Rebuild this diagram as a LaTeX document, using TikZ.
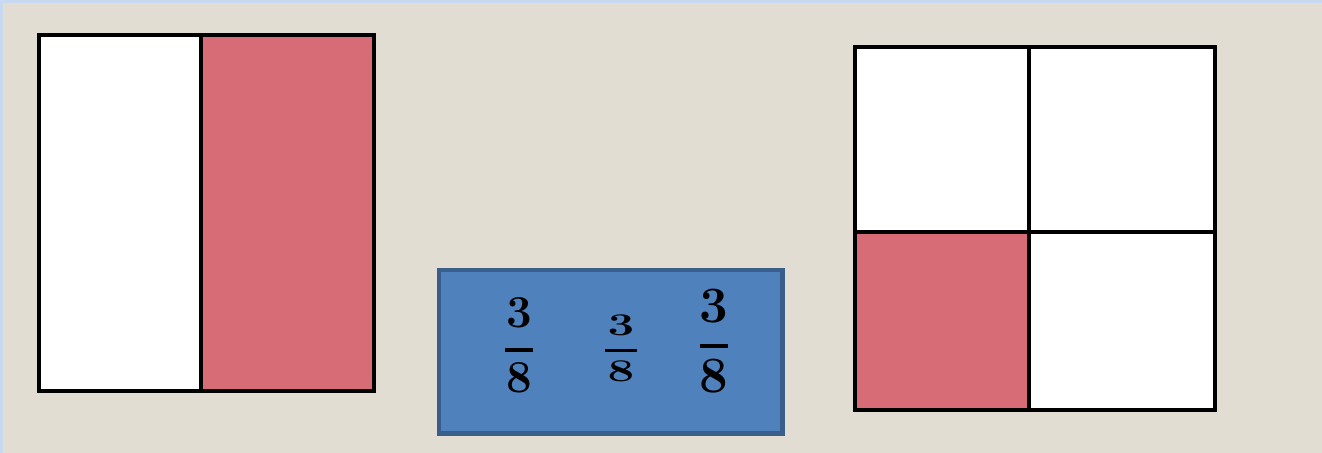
\documentclass[tikz,border=0pt]{standalone}
\usepackage{tikz}
\usetikzlibrary{positioning,calc}

\definecolor{pageBlue}{RGB}{198,217,240}
\definecolor{paper}{RGB}{226,221,211}
\definecolor{partRed}{RGB}{215,107,118}
\definecolor{cardFill}{RGB}{79,129,189}
\definecolor{cardEdge}{RGB}{58,94,140}

\begin{document}
\begin{tikzpicture}[x=0.02cm, y=-0.02cm]
    \tikzstyle{cell} = [
      draw=black,
      line width=2.8pt,
      fill=white,
    ]
    \tikzstyle{shaded} = [
      cell,
      fill=partRed,
    ]
    \tikzstyle{digit} = [
      anchor=center,
      inner sep=0pt,
      font=\fontsize{26}{26}\selectfont\bfseries,
    ]
    \tikzstyle{smalldigit} = [
      digit,
      font=\fontsize{18}{18}\selectfont\bfseries,
      xscale=1.5,
      transform shape,
    ]
    \tikzstyle{bar} = [
      line width=1.8pt,
      draw=black,
    ]

    % page
    {
      \fill[pageBlue] (0,0) rectangle (1322,453);
      \fill[paper] (3,3) rectangle (1322,453);
      \useasboundingbox (0,0) rectangle (1322,453);
    }

    % halves
    {
      \draw[cell]   (39,35)  rectangle (201,391);
      \draw[shaded] (201,35) rectangle (374,391);
    }

    % quarters
    {
      \draw[cell]   (855,47)   rectangle (1029,232);
      \draw[cell]   (1029,47)  rectangle (1215,232);
      \draw[shaded] (855,232)  rectangle (1029,410);
      \draw[cell]   (1029,232) rectangle (1215,410);
    }

    % card
    {
      \node[draw=cardEdge, line width=2.4pt, fill=cardFill, minimum width=348*0.02cm-2.4pt,
        minimum height=168*0.02cm-2.4pt] (card) at (610.5,351.5) {};
    }

    % first fraction
    {
      \node[digit] (numI) at (519,313) {3};
      \node[digit] (denI) at (519,378) {8};
      \draw[bar] ([xshift=-14*0.02cm] $(numI)!0.57!(denI)$) -- ([xshift=14*0.02cm] $(numI)!0.57!(denI)$);
    }

    % second fraction
    {
      \node[smalldigit] (numII) at (621,325) {3};
      \node[smalldigit] (denII) at (621,371) {8};
      \draw[bar] ([xshift=-16*0.02cm] $(numII)!0.55!(denII)$) -- ([xshift=16*0.02cm] $(numII)!0.55!(denII)$);
    }

    % third fraction
    {
      \node[digit, font=\fontsize{29}{29}\selectfont\bfseries] (numIII) at (714,306) {3};
      \node[digit, font=\fontsize{29}{29}\selectfont\bfseries] (denIII) at (714,376) {8};
      \draw[bar] ([xshift=-14*0.02cm] $(numIII)!0.571!(denIII)$) -- ([xshift=14*0.02cm] $(numIII)!0.571!(denIII)$);
    }
\end{tikzpicture}
\end{document}
